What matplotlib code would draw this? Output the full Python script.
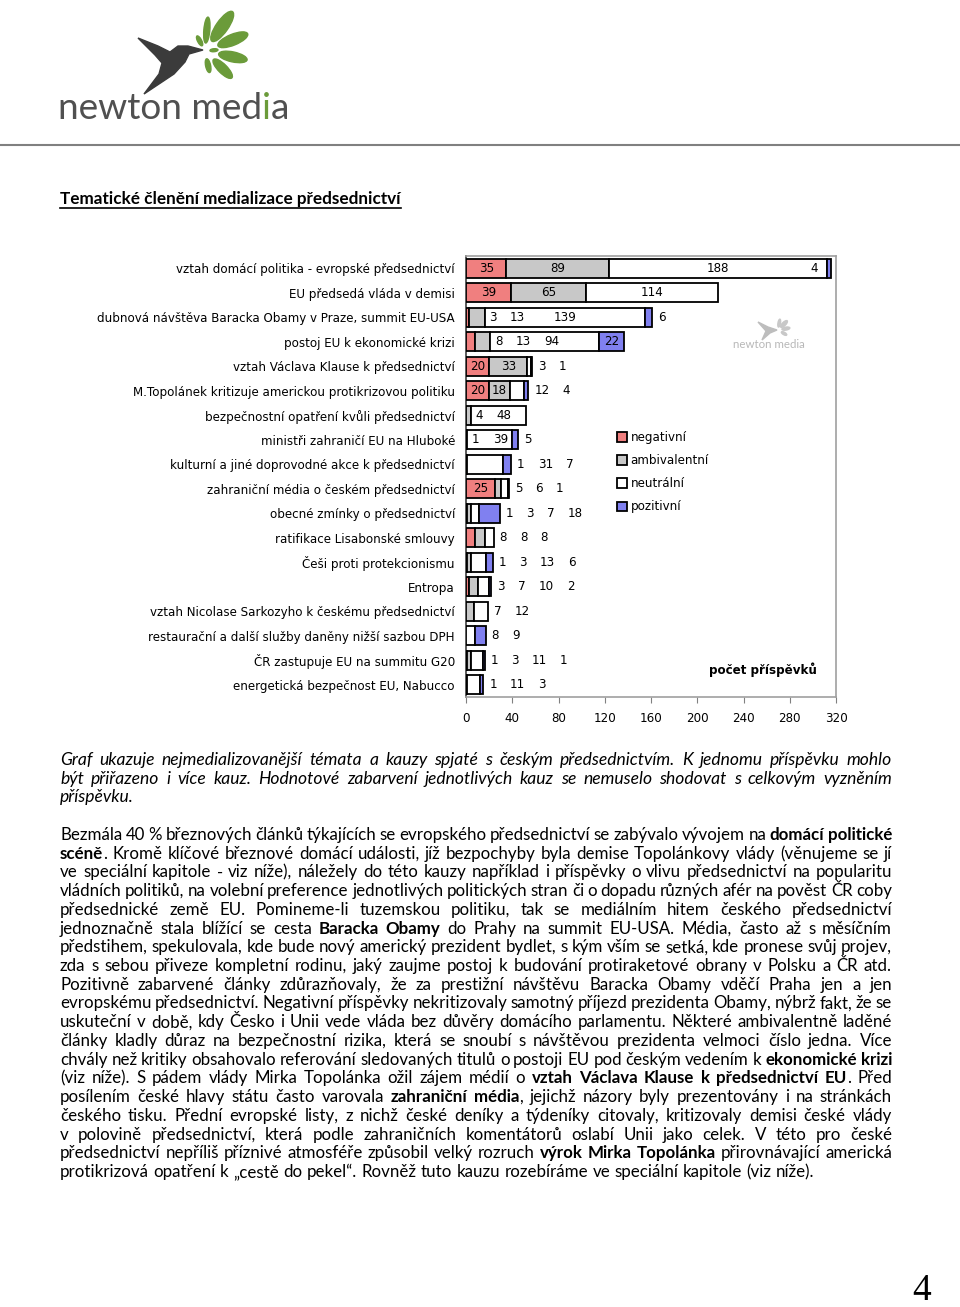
import matplotlib
matplotlib.use('Agg')
import matplotlib.pyplot as plt
from matplotlib.patches import Polygon, Ellipse
import numpy as np

# ---------------- data ----------------
categories = [
    "vztah domácí politika - evropské předsednictví",
    "EU předsedá vláda v demisi",
    "dubnová návštěva Baracka Obamy v Praze, summit EU-USA",
    "postoj EU k ekonomické krizi",
    "vztah Václava Klause k předsednictví",
    "M.Topolánek kritizuje americkou protikrizovou politiku",
    "bezpečnostní opatření kvůli předsednictví",
    "ministři zahraničí EU na Hluboké",
    "kulturní a jiné doprovodné akce k předsednictví",
    "zahraniční média o českém předsednictví",
    "obecné zmínky o předsednictví",
    "ratifikace Lisabonské smlouvy",
    "Češi proti protekcionismu",
    "Entropa",
    "vztah Nicolase Sarkozyho k českému předsednictví",
    "restaurační a další služby daněny nižší sazbou DPH",
    "ČR zastupuje EU na summitu G20",
    "energetická bezpečnost EU, Nabucco",
]
negativni    = [35, 39, 3, 8, 20, 20, 0, 0, 0, 25, 1, 8, 1, 3, 0, 0, 1, 0]
ambivalentni = [89, 65, 13, 13, 33, 18, 4, 1, 1, 5, 3, 8, 3, 7, 7, 0, 3, 1]
neutralni    = [188, 114, 139, 94, 3, 12, 48, 39, 31, 6, 7, 8, 13, 10, 12, 8, 11, 11]
pozitivni    = [4, 0, 6, 22, 1, 4, 0, 5, 7, 1, 18, 0, 6, 2, 0, 9, 1, 3]
series_names = ["negativní", "ambivalentní", "neutrální", "pozitivní"]
x_ticks = [0, 40, 80, 120, 160, 200, 240, 280, 320]

# layout: how many value labels of each row sit inside the bar
label_inside_count = [4, 3, 3, 4, 2, 2, 2, 2, 0, 1, 0, 0, 0, 0, 0, 0, 0, 0]

series_colors = ["#f07f7f", "#c8c8c8", "#ffffff", "#8080f0"]

W, H = 960, 1307
fig = plt.figure(figsize=(W / 100, H / 100), dpi=100)
fig.patch.set_facecolor('white')
bg = fig.add_axes([0, 0, 1, 1])
bg.set_xlim(0, W)
bg.set_ylim(H, 0)
bg.axis('off')
renderer = fig.canvas.get_renderer()

CH = 'DejaVu Sans'
BODY = 'Lato'


def twidth(s, size, **kw):
    t = bg.text(0, 0, s, fontsize=size, **kw)
    w = t.get_window_extent(renderer).width
    t.remove()
    return w


def fit_size(s, target, **kw):
    return 10 * target / twidth(s, 10, **kw)


# ---------------- logo ----------------
bird = [(138, 38), (158, 46), (170, 52), (178, 46), (188, 46), (203, 50), (189, 54),
        (185, 62), (174, 74), (144, 94), (159, 74), (162, 63), (155, 55)]
bg.add_patch(Polygon(bird, closed=True, color='#3b3b3b', zorder=2))
C = (205, 51)
for ang, r0, r1, wd in [(85, 8, 34, 6), (55, 12, 48, 12), (22, 14, 46, 11), (-12, 14, 43, 10),
                        (-45, 12, 38, 9), (118, 6, 17, 4), (5, 5, 13, 3), (-78, 8, 22, 5)]:
    rm = (r0 + r1) / 2
    a = np.deg2rad(ang)
    cx, cy = C[0] + rm * np.cos(a), C[1] - rm * np.sin(a)
    bg.add_patch(Ellipse((cx, cy), width=r1 - r0, height=wd, angle=-ang,
                         color='#6b9b3a', zorder=2))
logo_size = fit_size("newton media", 232, family=BODY)
x = 58
for piece, col in [("newton med", '#505050'), ("i", '#6b9b3a'), ("a", '#505050')]:
    t = bg.text(x, 119, piece, fontsize=logo_size, family=BODY,
                color=col, va='baseline', ha='left')
    x += t.get_window_extent(renderer).width
bg.plot([0, W], [145, 145], color='#808080', lw=1.5)

# ---------------- title ----------------
title = "Tematické členění medializace předsednictví"
tsize = fit_size(title, 341, family=BODY, weight='bold')
bg.text(60, 204, title, fontsize=tsize, family=BODY, weight='bold', va='baseline')
bg.plot([60, 401], [207.5, 207.5], color='black', lw=1.2)

# ---------------- chart ----------------
lsize = fit_size(categories[5], 322, family=CH)
ax = fig.add_axes([466 / W, 1 - 697 / H, 370 / W, 441 / H])
ax.set_facecolor('none')
y = np.arange(len(categories))
data = np.array([negativni, ambivalentni, neutralni, pozitivni], dtype=float)
lefts = np.zeros(len(categories))
for k, name in enumerate(series_names):
    vals = data[k]
    m = vals > 0
    ax.barh(y[m], vals[m], left=lefts[m], height=0.78, color=series_colors[k],
            edgecolor='black', linewidth=1.3, label=name, zorder=3)
    lefts += vals
ax.set_xlim(0, 320)
ax.set_ylim(len(categories) - 0.5, -0.5)
ax.set_xticks(x_ticks)
ax.set_xticklabels([str(v) for v in x_ticks], fontsize=lsize, family=CH)
ax.set_yticks(y)
ax.set_yticklabels(categories, fontsize=lsize, family=CH)
ax.tick_params(axis='y', length=0, pad=8)
ax.tick_params(axis='x', length=4, width=0.8, color='#808080', pad=7)
for s in ['top', 'right', 'bottom']:
    ax.spines[s].set_color('#a0a0a0')
ax.spines['left'].set_color('#404040')
for s in ax.spines.values():
    s.set_linewidth(1.2)

# value labels (layout in display pixels)
to_px = ax.transData.transform
to_data = ax.transData.inverted().transform
GAP = 13
GAP_C = 4
for i in range(len(categories)):
    vals = data[:, i]
    starts = np.concatenate([[0], np.cumsum(vals)[:-1]])
    bar_end = to_px((vals.sum(), y[i]))[0]
    ypx = to_px((0, y[i]))[1]
    labs = [k for k in range(4) if vals[k] > 0]
    n_in = label_inside_count[i]
    fits = []
    for idx, k in enumerate(labs):
        s = str(int(vals[k]))
        w = twidth(s, lsize, family=CH)
        sl = to_px((starts[k], 0))[0]
        sr = to_px((starts[k] + vals[k], 0))[0]
        fits.append((s, w, sl, sr, (sr - sl) >= w + 3))
    prev_right = -1e9
    prev_centered = True
    for idx, (s, w, sl, sr, fit) in enumerate(fits):
        centered = False
        if idx < n_in:
            if fit:
                left = (sl + sr) / 2 - w / 2
                left = max(left, prev_right + (GAP_C if prev_centered else GAP))
                centered = True
            else:
                run_end = sr
                j = idx + 1
                while j < n_in and not fits[j][4]:
                    run_end = fits[j][3]
                    j += 1
                if run_end >= bar_end - 0.5:
                    left = sl - 9 - w
                else:
                    left = max(run_end + 5, prev_right + GAP)
        else:
            left = max(bar_end + 6, prev_right + GAP)
        prev_right = left + w
        prev_centered = centered
        xd, yd = to_data((left + w / 2, ypx))
        ax.text(xd, yd, s, fontsize=lsize, family=CH, ha='center', va='center', zorder=5)

leg = ax.legend(loc='upper left', bbox_to_anchor=(617 / W, 1 - 431 / H),
                bbox_transform=fig.transFigure, frameon=False, borderpad=0,
                borderaxespad=0, handlelength=0.85, handleheight=0.85,
                handletextpad=0.3, labelspacing=0.85, prop={'family': CH, 'size': lsize})

bg.text(763, 670, "počet příspěvků", fontsize=lsize, family=CH, weight='bold',
        ha='center', va='center', zorder=6)
wm_size = fit_size("newton media", 72, family=BODY)
bg.text(769, 344, "newton media", fontsize=wm_size, family=BODY,
        color='#b8b8b8', ha='center', va='center')
for ang, r0, r1, wd in [(80, 3, 11, 2.5), (45, 4, 13, 3.5), (10, 4, 12, 3), (-30, 4, 10, 2.5)]:
    rm = (r0 + r1) / 2
    a = np.deg2rad(ang)
    bg.add_patch(Ellipse((778 + rm * np.cos(a), 330 - rm * np.sin(a)), width=r1 - r0,
                         height=wd, angle=-ang, color='#c8c8c8'))
bg.add_patch(Polygon([(758, 322), (768, 327), (777, 330), (770, 333), (762, 340), (766, 331)],
                     closed=True, color='#bdbdbd'))

# ---------------- paragraphs ----------------
italic_lines = [
    "Graf ukazuje nejmedializovanější témata a kauzy spjaté s českým předsednictvím. K jednomu příspěvku mohlo",
    "být přiřazeno i více kauz. Hodnotové zabarvení jednotlivých kauz se nemuselo shodovat s celkovým vyzněním",
    "příspěvku.",
]
body_lines = [
    "Bezmála 40 % březnových článků týkajících se evropského předsednictví se zabývalo vývojem na **domácí politické**",
    "**scéně**. Kromě klíčové březnové domácí události, jíž bezpochyby byla demise Topolánkovy vlády (věnujeme se jí",
    "ve speciální kapitole - viz níže), náležely do této kauzy například i příspěvky o vlivu předsednictví na popularitu",
    "vládních politiků, na volební preference jednotlivých politických stran či o dopadu různých afér na pověst ČR coby",
    "předsednické země EU. Pomineme-li tuzemskou politiku, tak se mediálním hitem českého předsednictví",
    "jednoznačně stala blížící se cesta **Baracka Obamy** do Prahy na summit EU-USA. Média, často až s měsíčním",
    "předstihem, spekulovala, kde bude nový americký prezident bydlet, s kým vším se setká, kde pronese svůj projev,",
    "zda s sebou přiveze kompletní rodinu, jaký zaujme postoj k budování protiraketové obrany v Polsku a ČR atd.",
    "Pozitivně zabarvené články zdůrazňovaly, že za prestižní návštěvu Baracka Obamy vděčí Praha jen a jen",
    "evropskému předsednictví. Negativní příspěvky nekritizovaly samotný příjezd prezidenta Obamy, nýbrž fakt, že se",
    "uskuteční v době, kdy Česko i Unii vede vláda bez důvěry domácího parlamentu. Některé ambivalentně laděné",
    "články kladly důraz na bezpečnostní rizika, která se snoubí s návštěvou prezidenta velmoci číslo jedna. Více",
    "chvály než kritiky obsahovalo referování sledovaných titulů o postoji EU pod českým vedením k **ekonomické krizi**",
    "(viz níže). S pádem vlády Mirka Topolánka ožil zájem médií o **vztah Václava Klause k předsednictví EU**. Před",
    "posílením české hlavy státu často varovala **zahraniční média**, jejichž názory byly prezentovány i na stránkách",
    "českého tisku. Přední evropské listy, z nichž české deníky a týdeníky citovaly, kritizovaly demisi české vlády",
    "v polovině předsednictví, která podle zahraničních komentátorů oslabí Unii jako celek. V této pro české",
    "předsednictví nepříliš příznivé atmosféře způsobil velký rozruch **výrok Mirka Topolánka** přirovnávající americká",
    "protikrizová opatření k „cestě do pekel“. Rovněž tuto kauzu rozebíráme ve speciální kapitole (viz níže).",
]


def parse(line):
    words, cur = [], []
    for pi, part in enumerate(line.split('**')):
        b = (pi % 2 == 1)
        for ci, ch in enumerate(part.split(' ')):
            if ci > 0 and cur:
                words.append(cur)
                cur = []
            if ch:
                cur.append((ch, b))
    if cur:
        words.append(cur)
    return words


def draw_line(line, ybase, x0, x1, justify, size, style='normal'):
    words = parse(line)
    objs = []
    widths = []
    for wd in words:
        pieces = []
        tw = 0
        for txt, b in wd:
            t = bg.text(0, ybase, txt, fontsize=size, family=BODY, style=style,
                        weight='bold' if b else 'normal', va='baseline', ha='left')
            pw = t.get_window_extent(renderer).width
            pieces.append((t, pw))
            tw += pw
        objs.append(pieces)
        widths.append(tw)
    space = twidth("a a", size, family=BODY, style=style) - twidth("aa", size, family=BODY, style=style)
    if justify and len(words) > 1:
        gap = (x1 - x0 - sum(widths)) / (len(words) - 1)
    else:
        gap = space
    x = x0
    for pieces, tw in zip(objs, widths):
        xx = x
        for t, pw in pieces:
            t.set_x(xx)
            xx += pw
        x += tw + gap


bsize = fit_size(body_lines[-1], 752, family=BODY)
isize = fit_size(italic_lines[-1], 74, family=BODY, style='italic')
for i, ln in enumerate(italic_lines):
    draw_line(ln, 765 + i * 18.7, 60, 892, i < len(italic_lines) - 1, isize, style='italic')
for i, ln in enumerate(body_lines):
    draw_line(ln, 840 + i * 18.72, 60, 892, i < len(body_lines) - 1, bsize)

bg.text(922, 1291, "4", fontsize=27, family='Liberation Serif', ha='center', va='center')

fig.savefig('out.png', dpi=100, facecolor='white')
